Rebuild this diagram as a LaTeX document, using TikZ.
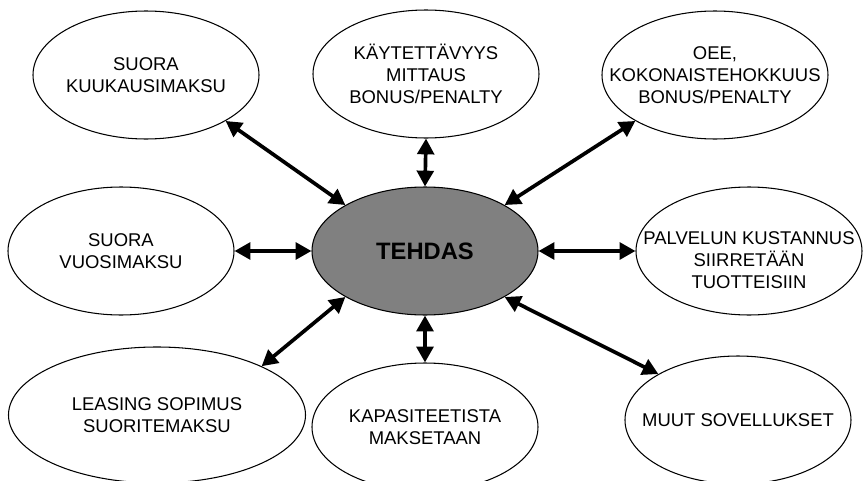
\documentclass[tikz,border=0pt]{standalone}
\usepackage{fontspec}
\setmainfont{Liberation Sans}
\usetikzlibrary{arrows.meta,shapes.geometric}

\begin{document}
\begin{tikzpicture}[>={Triangle[length=9pt,width=9.5pt]},
  oval/.style={ellipse,draw,fill=white,line width=0.6pt,minimum width=4.52cm,minimum height=2.56cm,
    inner xsep=-1.6cm,inner ysep=0pt,align=center,font=\fontsize{10.5}{12.5}\selectfont},
  link/.style={<->,line width=2.1pt}]
  \useasboundingbox (0,0) rectangle (17.28,9.6);
  % centre
  \node[oval,fill=gray,font=\fontsize{13.5}{16}\selectfont\bfseries] (tehdas) at (8.50,4.58) {TEHDAS};
  % top row
  \node[oval] (kuukausi) at (2.92,8.10) {SUORA\\KUUKAUSIMAKSU};
  \node[oval] (kaytto) at (8.52,8.12) {KÄYTETTÄVYYS\\MITTAUS\\BONUS/PENALTY};
  \node[oval] (oee) at (14.30,8.10) {OEE,\\KOKONAISTEHOKKUUS\\BONUS/PENALTY};
  % middle row
  \node[oval] (vuosi) at (2.42,4.58) {SUORA\\VUOSIMAKSU};
  \node[oval] (palvelu) at (14.98,4.58) {\mbox{}\\[5pt]PALVELUN KUSTANNUS\\SIIRRETÄÄN\\TUOTTEISIIN};
  % bottom row
  \node[oval,minimum width=5.94cm,minimum height=2.72cm] (leasing) at (3.14,1.30) {LEASING SOPIMUS\\SUORITEMAKSU};
  \node[oval] (kapasit) at (8.50,1.06) {KAPASITEETISTA\\MAKSETAAN};
  \node[oval] (muut) at (14.76,1.20) {MUUT SOVELLUKSET};
  % links
  \draw[link] (tehdas.150) -- (kuukausi.-30);
  \draw[link] (tehdas.north) -- (kaytto.south);
  \draw[link] (tehdas.30) -- (oee.210);
  \draw[link] (tehdas.west) -- (vuosi.east);
  \draw[link] (tehdas.east) -- (palvelu.west);
  \draw[link] (tehdas.210) -- (leasing.25);
  \draw[link] (tehdas.south) -- (kapasit.north);
  \draw[link] (tehdas.-30) -- (muut.150);
\end{tikzpicture}
\end{document}
